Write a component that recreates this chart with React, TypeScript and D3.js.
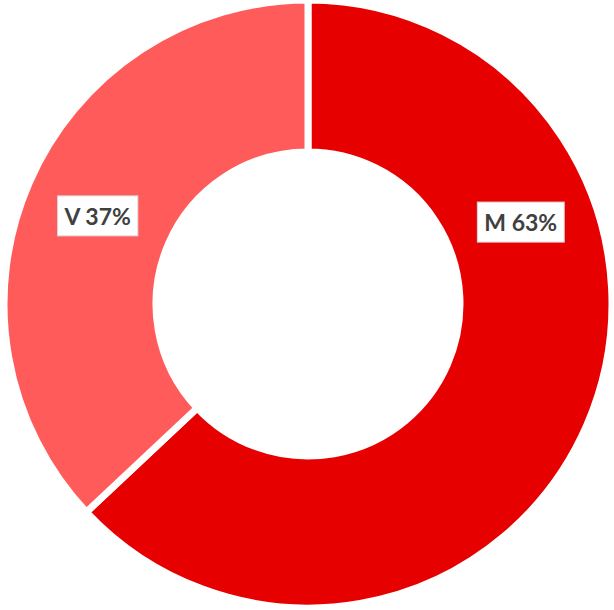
import * as d3 from 'd3';
import React, { useEffect, useRef } from 'react';

// slice names and shares (percent), in drawing order from 12 o'clock clockwise
const labels = ['M', 'V'];
const shares = [63, 37];
const colors = ['#e60000', '#ff5b5b'];
// where along each slice the label sits (0 = start, 1 = end)
const labelAt = [0.304, 0.495];

const W = 614;
const H = 610;

function App() {
  const ref = useRef<SVGSVGElement>(null);

  useEffect(() => {
    const svg = d3.select(ref.current);
    svg.selectAll('*').remove();

    const cx = 308, cy = 304;
    const outer = 304, inner = 152;

    const pie = d3.pie<number>().sort(null).value(d => d);
    const arcs = pie(shares);
    const arc = d3.arc<d3.PieArcDatum<number>>().innerRadius(inner).outerRadius(outer);

    const g = svg.append('g').attr('transform', `translate(${cx},${cy})`);

    g.selectAll('path.slice')
      .data(arcs)
      .join('path')
      .attr('class', 'slice')
      .attr('d', arc)
      .attr('fill', (d, i) => colors[i])
      .attr('stroke', '#fff')
      .attr('stroke-width', 7)
      .attr('stroke-linejoin', 'miter');

    const labelR = 228;
    const lab = g.selectAll('g.lab')
      .data(arcs)
      .join('g')
      .attr('class', 'lab')
      .attr('transform', (d, i) => {
        const a = d.startAngle + (d.endAngle - d.startAngle) * labelAt[i];
        return `translate(${Math.sin(a) * labelR},${-Math.cos(a) * labelR})`;
      });

    const rects = lab.append('rect')
      .attr('fill', '#fff')
      .attr('stroke', '#d9d9d9')
      .attr('stroke-width', 1);

    const texts = lab.append('text')
      .attr('text-anchor', 'middle')
      .attr('dominant-baseline', 'central')
      .attr('font-family', 'Lato, "Open Sans", sans-serif')
      .attr('font-weight', 700)
      .attr('font-size', 23)
      .attr('fill', '#404040')
      .text((d, i) => `${labels[i]} ${shares[i]}%`);

    texts.each(function (d, i) {
      const w = (this as SVGTextElement).getComputedTextLength();
      const bw = w + 14;
      const bh = 40;
      d3.select(rects.nodes()[i])
        .attr('x', -bw / 2)
        .attr('y', -bh / 2)
        .attr('width', bw)
        .attr('height', bh);
    });
  }, []);

  return (
    <svg
      ref={ref}
      width={W}
      height={H}
      style={{ position: 'absolute', left: 0, top: 0, background: '#fff' }}
    />
  );
}

export default App;
